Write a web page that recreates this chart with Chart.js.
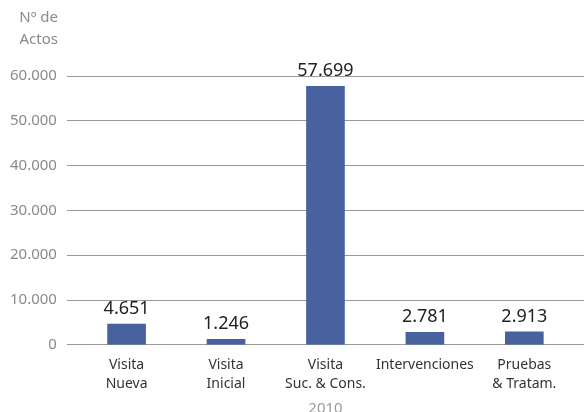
<!DOCTYPE html>
<html>
<head>
<meta charset="utf-8">
<script src="https://cdn.jsdelivr.net/npm/chart.js@4"></script>
<style>
  html, body { margin: 0; padding: 0; background: #fff; overflow: hidden; }
  #wrap { width: 584px; height: 418px; }
</style>
</head>
<body>
<div id="wrap"><canvas id="bar-chart"></canvas></div>
<script>
// categories and values
let categories = [['Visita', 'Nueva'], ['Visita', 'Inicial'], ['Visita', 'Suc. & Cons.'], 'Intervenciones', ['Pruebas', '& Tratam.']];
let actos = [4651, 1246, 57699, 2781, 2913];
let yTicks = [0, 10000, 20000, 30000, 40000, 50000, 60000];
let yearLabel = '2010';
let yTitle = ['Nº de', 'Actos'];

// 57699 -> 57.699
function fmt(v) {
    return String(Math.round(v)).replace(/\B(?=(\d{3})+(?!\d))/g, '.');
}

let points = actos.map((v, i) => ({ x: i, y: v }));

// value labels above the bars + the "Nº de Actos" heading
let labelsPlugin = {
    id: 'labels',
    afterDatasetsDraw(chart) {
        let ctx = chart.ctx;
        ctx.save();
        ctx.font = '18px "Noto Sans"';
        ctx.fillStyle = '#222';
        ctx.textAlign = 'center';
        ctx.textBaseline = 'alphabetic';
        chart.getDatasetMeta(0).data.forEach((bar, i) => {
            ctx.fillText(fmt(actos[i]), bar.x, bar.y - 10);
        });
        let ys = chart.scales.y;
        ctx.font = '15px "Noto Sans"';
        ctx.fillStyle = '#8a8a8a';
        ctx.textAlign = 'right';
        ctx.textBaseline = 'middle';
        ctx.fillText(yTitle[0], ys.right - 9, 18);
        ctx.fillText(yTitle[1], ys.right - 9, 40);
        ctx.restore();
    }
};

new Chart(document.getElementById('bar-chart'), {
    type: 'bar',
    data: {
        datasets: [{
            data: points,
            backgroundColor: '#4862a0',
            barThickness: 38
        }]
    },
    options: {
        responsive: true,
        maintainAspectRatio: false,
        animation: false,
        layout: { padding: { top: 76, right: 0, left: 0, bottom: 0 } },
        plugins: {
            legend: { display: false },
            tooltip: { enabled: false }
        },
        scales: {
            x: {
                type: 'linear',
                offset: false,
                min: -0.6,
                max: 4.6,
                afterBuildTicks(scale) {
                    scale.ticks = categories.map((c, i) => ({ value: i }));
                },
                grid: { display: false, drawTicks: false, offset: false },
                border: { display: false },
                ticks: {
                    autoSkip: false,
                    maxRotation: 0,
                    padding: 10,
                    color: '#333',
                    font: { family: 'Noto Sans', size: 14, lineHeight: 1.4 },
                    callback: (v) => categories[v]
                },
                title: {
                    display: true,
                    text: yearLabel,
                    color: '#999',
                    font: { family: 'Noto Sans', size: 15 },
                    padding: { top: -4, bottom: 0 }
                }
            },
            y: {
                min: 0,
                max: 60000,
                afterBuildTicks(scale) {
                    scale.ticks = yTicks.map(v => ({ value: v }));
                },
                grid: { color: '#999', lineWidth: 1, drawTicks: false },
                border: { display: false },
                ticks: {
                    padding: 10,
                    color: '#8a8a8a',
                    font: { family: 'Noto Sans', size: 15 },
                    callback: (v) => fmt(v)
                }
            }
        }
    },
    plugins: [labelsPlugin]
});
</script>
</body>
</html>
